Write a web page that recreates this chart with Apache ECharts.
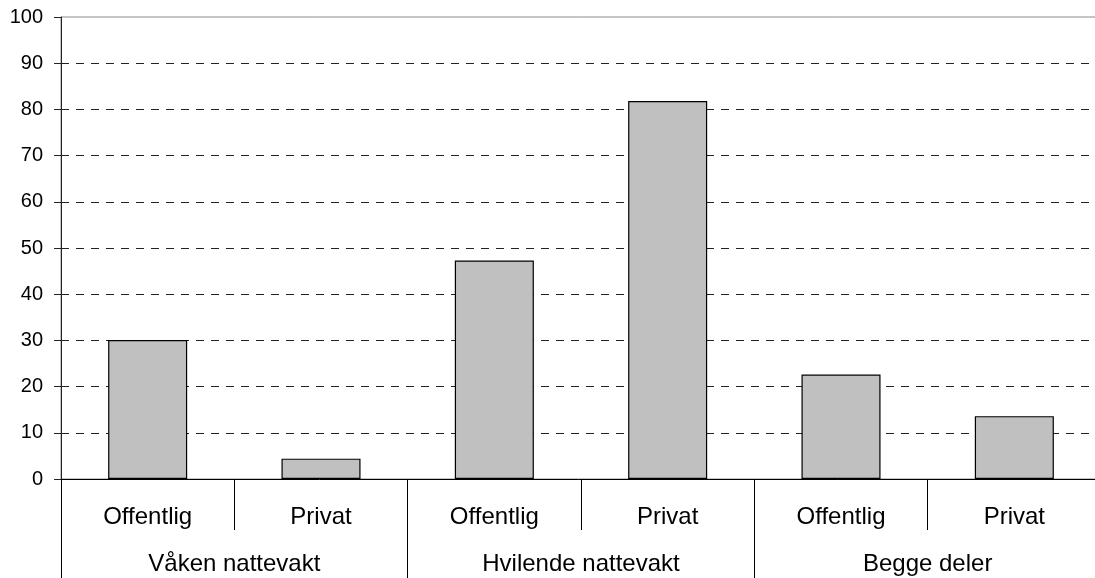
<!DOCTYPE html>
<html>
<head>
<meta charset="utf-8">
<script src="https://cdn.jsdelivr.net/npm/echarts@6/dist/echarts.min.js"></script>
<style>
  html, body { margin: 0; padding: 0; background: #fff; }
  #chart { width: 1095px; height: 578px; }
</style>
</head>
<body>
<div id="chart"></div>
<script>
// Nattevakt-ordninger etter sektor (prosent)
const groups = ['Våken nattevakt', 'Hvilende nattevakt', 'Begge deler'];
const sectors = ['Offentlig', 'Privat'];
const values = [30.1, 4.4, 47.3, 81.8, 22.6, 13.6];
const yTicks = { min: 0, max: 100, step: 10 };

// one category per (group, sector) pair, labelled with the sector
const categories = [];
groups.forEach(() => sectors.forEach(s => categories.push(s)));

const font = '"Liberation Sans", Arial, Helvetica, sans-serif';

const chart = echarts.init(document.getElementById('chart'), null, { renderer: 'canvas' });
chart.setOption({
  animation: false,
  backgroundColor: '#fff',
  textStyle: { fontFamily: font, color: '#000' },
  grid: {
    left: 61, top: 17, width: 1040, height: 462,
    outerBoundsMode: 'none',
    show: true, borderColor: '#8a8a8a', borderWidth: 1, backgroundColor: 'transparent'
  },
  xAxis: [
    {
      type: 'category',
      data: categories,
      boundaryGap: true,
      axisLine: { show: true, lineStyle: { color: '#000', width: 1 } },
      axisTick: { show: true, interval: 0, length: 51, lineStyle: { color: '#000', width: 1 } },
      axisLabel: { interval: 0, margin: 26, color: '#000', fontSize: 24, fontFamily: font },
      splitLine: { show: false }
    },
    {
      type: 'category',
      data: groups,
      position: 'bottom',
      boundaryGap: true,
      axisLine: { show: false },
      axisTick: { show: true, interval: 0, length: 100, lineStyle: { color: '#000', width: 1 } },
      axisLabel: { interval: 0, margin: 73, color: '#000', fontSize: 24, fontFamily: font },
      splitLine: { show: false }
    }
  ],
  yAxis: {
    type: 'value',
    min: yTicks.min, max: yTicks.max, interval: yTicks.step,
    axisLine: { show: true, lineStyle: { color: '#222', width: 1 } },
    axisTick: { show: true, length: 7, lineStyle: { color: '#222', width: 1 } },
    axisLabel: {
      margin: 18,
      formatter: '{t|{value}}',
      rich: { t: { fontSize: 20, fontFamily: font, color: '#000' } }
    },
    splitLine: {
      show: true, showMinLine: false, showMaxLine: false,
      lineStyle: { color: '#222', width: 1, type: [8, 7] }
    }
  },
  series: [{
    type: 'bar',
    xAxisIndex: 0,
    data: values,
    barCategoryGap: '54.4%',
    itemStyle: { color: '#c0c0c0', borderColor: '#000', borderWidth: 1.2 },
    label: { show: false }
  }]
});
</script>
</body>
</html>
